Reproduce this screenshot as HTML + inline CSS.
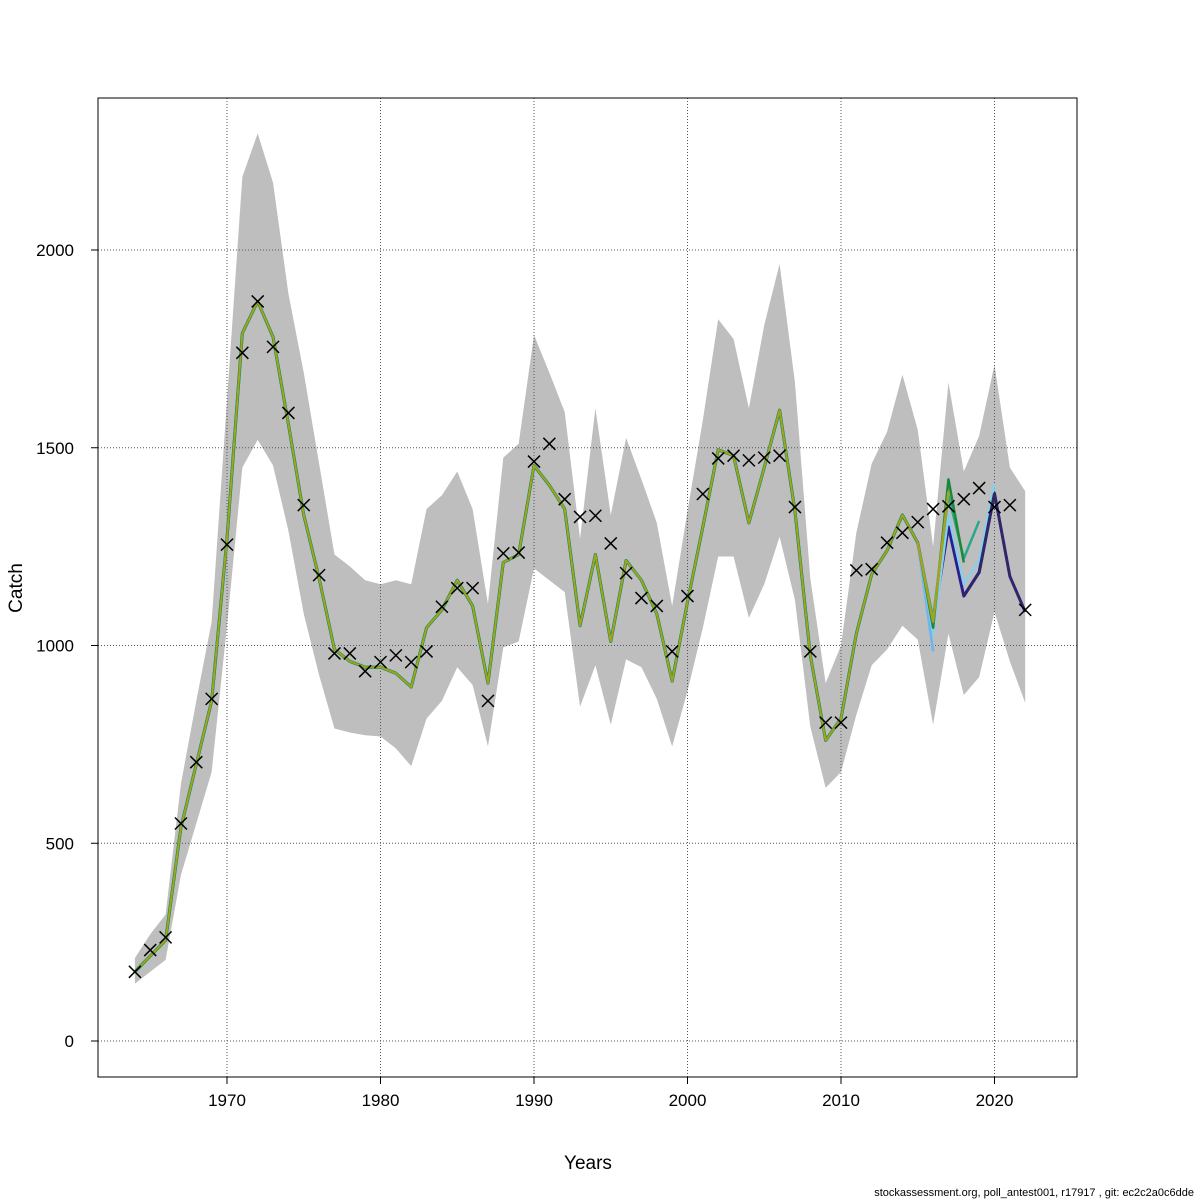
<!DOCTYPE html>
<html><head><meta charset="utf-8"><style>
body{margin:0;background:#fff;}
svg{display:block;font-family:"Liberation Sans",sans-serif;}
</style></head><body>
<svg id="chart" width="1200" height="1200"></svg>
<script>
const years=[];for(let y=1964;y<=2022;y++)years.push(y);
const observed=[175,230,262,550,705,865,1255,1740,1870,1755,1588,1355,1178,980,980,935,958,975,958,985,1098,1145,1145,860,1233,1235,1465,1510,1370,1325,1328,1258,1183,1120,1100,985,1125,1383,1473,1480,1468,1475,1480,1350,985,805,805,1190,1193,1260,1285,1312,1345,1352,1370,1398,1350,1355,1090];
const estimate=[175,215,255,540,700,860,1270,1790,1870,1780,1560,1330,1170,990,960,945,945,930,895,1045,1090,1165,1100,905,1210,1230,1455,1405,1345,1050,1230,1010,1215,1165,1080,910,1110,1300,1495,1480,1310,1450,1595,1340,975,760,815,1030,1180,1240,1330,1260,1060,1300,1125,1185,1385,1175,1085];
const upper=[210,270,320,650,860,1060,1620,2185,2295,2170,1890,1690,1460,1230,1200,1165,1155,1165,1155,1345,1380,1440,1345,1105,1475,1510,1785,1690,1590,1270,1600,1330,1525,1420,1310,1100,1340,1570,1825,1775,1600,1810,1965,1665,1170,905,1000,1285,1460,1540,1685,1545,1250,1665,1440,1530,1710,1450,1390];
const lower=[145,175,205,420,550,680,1050,1450,1520,1455,1290,1080,925,790,780,773,770,740,695,815,860,945,900,745,995,1010,1195,1165,1135,845,950,800,965,945,865,745,885,1045,1225,1225,1070,1155,1275,1115,795,640,680,825,950,990,1050,1015,800,1030,875,920,1085,960,855];
const peel2016=[985];
const peel2017=[1060,1390];
const peel2018=[1045,1420,1210];
const peel2019=[1070,1380,1220,1315];
const peel2020=[1030,1330,1155,1215,1410];
const xTicks=[1970,1980,1990,2000,2010,2020];
const yTicks=[0,500,1000,1500,2000];

const X=y=>227+(y-1970)*15.35;
const Y=v=>1041-v*0.3955;
const svg=document.getElementById('chart');
const NS='http://www.w3.org/2000/svg';
function mk(t,a,p){const e=document.createElementNS(NS,t);for(const k in a)e.setAttribute(k,a[k]);(p||svg).appendChild(e);return e;}

let pts=years.map((y,i)=>X(y)+','+Y(upper[i]));
for(let i=years.length-1;i>=0;i--)pts.push(X(years[i])+','+Y(lower[i]));
const band=mk('polygon',{points:pts.join(' '),fill:'#bebebe',stroke:'none'});



xTicks.forEach(t=>{const g=mk('line',{x1:X(t),x2:X(t),y1:98,y2:1077,stroke:'#555','stroke-dasharray':'1,2'});

});
yTicks.forEach(t=>{const g=mk('line',{x1:98,x2:1077,y1:Y(t),y2:Y(t),stroke:'#555','stroke-dasharray':'1,2'});

});

function line(ys,vals,color,w,name,dash){
  const p=ys.map((y,i)=>X(y)+','+Y(vals[i])).join(' ');
  const a={points:p,fill:'none',stroke:color,'stroke-width':w,'stroke-linejoin':'round'};
  if(dash)a['stroke-dasharray']=dash;
  const e=mk('polyline',a);
  
  
}
const base=years.slice(0,52), baseEst=estimate.slice(0,52);
function peel(arr,color,name){const ys=years.slice(51,52+arr.length);line(ys,[estimate[51]].concat(arr),color,2.5,name);}
line(base,baseEst,'#87ceeb',3.5,'peel-line-light');
line(base,baseEst,'#2a9d8f',3,'peel-line-teal');
line(base,baseEst,'#1a8a3a',3,'peel-line-green');
line(base,baseEst,'#a8a020',2,'peel-line-olive');
line(years.slice(51),estimate.slice(51),'#2b1f8f',3,'estimate-line');
peel(peel2016,'#6cb4ee','peel-2016');
peel(peel2020,'#87ceeb','peel-2020');
peel(peel2019,'#2aa88a','peel-2019');
peel(peel2018,'#1a8a3a','peel-2018');
peel(peel2017,'#a8a020','peel-2017');
line(years.slice(54,57),estimate.slice(54,57),'#2b1f8f',3,'estimate-line-top');
line(years.slice(54),estimate.slice(54),'#333',2,'forecast-line','4,3');

years.forEach((y,i)=>{const x=X(y),yy=Y(observed[i]),s=6;
const g=mk('path',{d:`M${x-s},${yy-s}L${x+s},${yy+s}M${x-s},${yy+s}L${x+s},${yy-s}`,stroke:'#000','stroke-width':1.5,fill:'none'});

});

const box=mk('rect',{x:98,y:98,width:979,height:979,fill:'none',stroke:'#000'});



xTicks.forEach(t=>{mk('line',{x1:X(t),x2:X(t),y1:1077,y2:1084,stroke:'#000'});
const tx=mk('text',{x:X(t),y:1106,'text-anchor':'middle','font-size':17});tx.textContent=t;

});
yTicks.forEach(t=>{mk('line',{x1:91,x2:98,y1:Y(t),y2:Y(t),stroke:'#000'});
const tx=mk('text',{x:74,y:Y(t)+6,'text-anchor':'end','font-size':17});tx.textContent=t;

});
</script>
<svg style="position:absolute;left:0;top:0" width="1200" height="1200">
<text x="588" y="1169" text-anchor="middle" font-size="19" font-family="Liberation Sans, sans-serif">Years</text>
<text x="22" y="588" text-anchor="middle" font-size="19" font-family="Liberation Sans, sans-serif" transform="rotate(-90 22 588)">Catch</text>
<text x="1194" y="1196" text-anchor="end" font-size="11" font-family="Liberation Sans, sans-serif">stockassessment.org, poll_antest001, r17917 , git: ec2c2a0c6dde</text>
</svg>
</body></html>
